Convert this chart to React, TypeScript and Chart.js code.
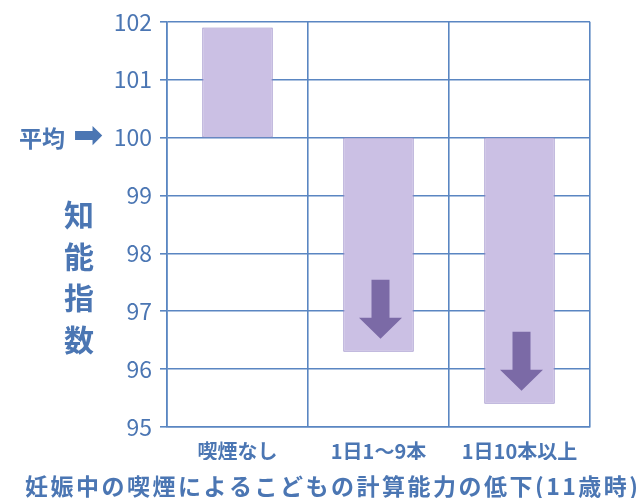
import React, { useEffect, useRef } from 'react';
import { Chart, registerables } from 'chart.js';

Chart.register(...registerables);

const categories = ['喫煙なし', '1日1〜9本', '1日10本以上'];
const baseline = 100;
const iqValues = [101.9, 96.3, 95.4];
const yMin = 95;
const yMax = 102;
const yStep = 1;
const avgLabel = '平均';
const avgArrow = '➡';
const axisTitleChars = ['知', '能', '指', '数'];
const chartTitle = '妊娠中の喫煙によるこどもの計算能力の低下(11歳時)';

const TEXT = '#4b76b3';
const GRID = '#5a86c2';
const BAR_FILL = '#cbc0e4';
const BAR_BORDER = '#9486c4';
const ARROW = '#7b6aa6';
const JP = '"Noto Sans CJK JP", "Noto Sans", sans-serif';

const decor = {
  id: 'decor',
  afterDatasetsDraw(chart: any) {
    const ctx = chart.ctx;
    const y = chart.scales.y;
    const meta = chart.getDatasetMeta(0);
    ctx.save();
    ctx.fillStyle = ARROW;
    meta.data.forEach((bar: any, i: number) => {
      if (iqValues[i] >= baseline) return;
      const bottom = y.getPixelForValue(iqValues[i]);
      const tip = bottom - 13;
      const headTop = tip - 21;
      const top = tip - 59;
      const cx = bar.x + 2;
      ctx.beginPath();
      ctx.moveTo(cx - 9, top);
      ctx.lineTo(cx + 9, top);
      ctx.lineTo(cx + 9, headTop);
      ctx.lineTo(cx + 21.5, headTop);
      ctx.lineTo(cx, tip);
      ctx.lineTo(cx - 21.5, headTop);
      ctx.lineTo(cx - 9, headTop);
      ctx.closePath();
      ctx.fill();
    });
    ctx.restore();
  },
  afterDraw(chart: any) {
    const ctx = chart.ctx;
    const y = chart.scales.y;
    const area = chart.chartArea;
    ctx.save();
    ctx.fillStyle = TEXT;
    // 平均 ➡
    const y100 = y.getPixelForValue(baseline);
    ctx.textBaseline = 'middle';
    ctx.textAlign = 'right';
    ctx.font = `bold 23px ${JP}`;
    ctx.fillText(avgLabel, 65, y100 + 1);
    ctx.textAlign = 'center';
    ctx.font = `bold 36px "DejaVu Sans", sans-serif`;
    ctx.fillText(avgArrow, 88, y100);
    // vertical axis title
    ctx.font = `bold 30px ${JP}`;
    axisTitleChars.forEach((c, i) => {
      ctx.fillText(c, 79, area.top + 193 + i * 41.5);
    });
    // bottom title
    ctx.font = `bold 23px ${JP}`;
    const target = 613;
    const w = ctx.measureText(chartTitle).width;
    const n = Array.from(chartTitle).length;
    const ls = Math.max(0, (target - w) / (n - 1));
    (ctx as any).letterSpacing = `${ls}px`;
    ctx.textAlign = 'left';
    ctx.fillText(chartTitle, 25, 486);
    ctx.restore();
  },
};

export default function App() {
  const ref = useRef<HTMLCanvasElement | null>(null);
  useEffect(() => {
    document.body.style.margin = '0';
    const canvas = ref.current;
    if (!canvas) return;
    const chart = new Chart(canvas, {
      type: 'bar',
      data: {
        labels: categories,
        datasets: [
          {
            data: iqValues.map((v) => [baseline, v]) as any,
            backgroundColor: BAR_FILL,
            borderColor: BAR_BORDER,
            borderWidth: 1,
            borderSkipped: false,
            barPercentage: 1,
            categoryPercentage: 0.5,
          },
        ],
      },
      options: {
        animation: false,
        responsive: false,
        maintainAspectRatio: false,
        layout: { padding: { left: 0, right: 49, top: 18, bottom: 38 } },
        plugins: {
          legend: { display: false },
          tooltip: { enabled: false },
          title: { display: false },
        },
        scales: {
          x: {
            offset: true,
            grid: {
              display: true,
              offset: true,
              color: GRID,
              lineWidth: 1.6,
              tickLength: 0,
              drawTicks: false,
            },
            border: { display: true, color: GRID, width: 1.6 },
            ticks: {
              color: TEXT,
              padding: 12,
              font: { family: JP, size: 20, weight: 'bold' },
            },
            afterFit(scale: any) {
              scale.height = 33;
            },
          },
          y: {
            min: yMin,
            max: yMax,
            grid: { color: GRID, lineWidth: 1.6, tickLength: 7 },
            border: { display: true, color: GRID, width: 1.6 },
            ticks: {
              stepSize: yStep,
              color: TEXT,
              padding: 8,
              font: { family: JP, size: 23 },
            },
            afterFit(scale: any) {
              scale.width = 167;
            },
          },
        },
      },
      plugins: [decor],
    });
    return () => chart.destroy();
  }, []);
  return (
    <div style={{ position: 'absolute', left: 0, top: 0, width: 639, height: 498, background: '#fff' }}>
      <canvas ref={ref} width={639} height={498} style={{ width: 639, height: 498 }} />
    </div>
  );
}
